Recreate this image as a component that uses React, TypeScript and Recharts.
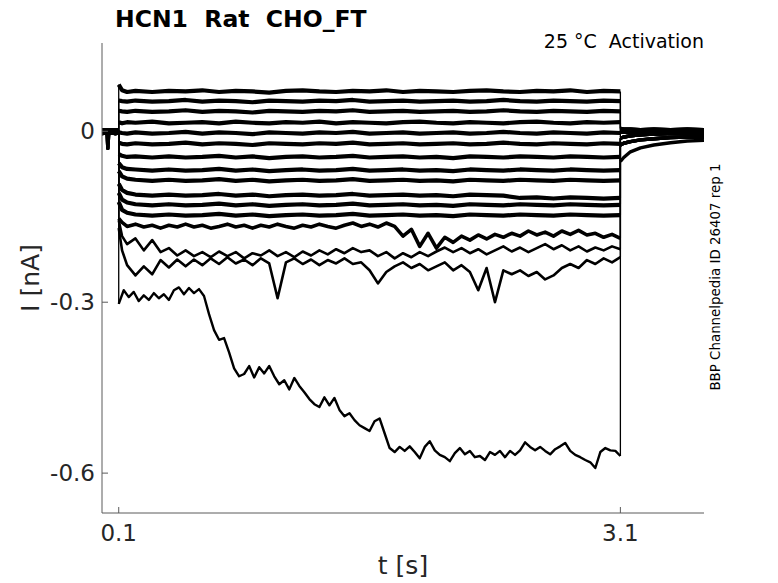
import React from 'react';
import { LineChart, Line, XAxis, YAxis } from 'recharts';

// sample times [s]
const preT = [0, 0.02, 0.03, 0.035, 0.04, 0.06, 0.08, 0.1];
const flatT = [0.1, 0.12, 0.15, 0.2, 0.3, 0.4, 0.5, 0.6, 0.7, 0.8, 0.9, 1.0, 1.1, 1.2, 1.3, 1.4, 1.5, 1.6, 1.7, 1.8, 1.9, 2.0, 2.1, 2.2, 2.3, 2.4, 2.5, 2.6, 2.7, 2.8, 2.9, 3.0, 3.1];
const noisyT = [0.1, 0.12, 0.15, 0.2, 0.25, 0.3, 0.35, 0.4, 0.45, 0.5, 0.55, 0.6, 0.65, 0.7, 0.75, 0.8, 0.85, 0.9, 0.95, 1.0, 1.05, 1.1, 1.15, 1.2, 1.25, 1.3, 1.35, 1.4, 1.45, 1.5, 1.55, 1.6, 1.65, 1.7, 1.75, 1.8, 1.85, 1.9, 1.95, 2.0, 2.05, 2.1, 2.15, 2.2, 2.25, 2.3, 2.35, 2.4, 2.45, 2.5, 2.55, 2.6, 2.65, 2.7, 2.75, 2.8, 2.85, 2.9, 2.95, 3.0, 3.05, 3.1];
const bigT = [0.1, 0.13, 0.16, 0.19, 0.22, 0.25, 0.28, 0.31, 0.34, 0.37, 0.4, 0.43, 0.46, 0.49, 0.52, 0.55, 0.58, 0.61, 0.64, 0.67, 0.7, 0.73, 0.76, 0.79, 0.82, 0.85, 0.88, 0.91, 0.94, 0.97, 1.0, 1.03, 1.06, 1.09, 1.12, 1.15, 1.18, 1.21, 1.24, 1.27, 1.3, 1.33, 1.36, 1.39, 1.42, 1.45, 1.48, 1.51, 1.54, 1.57, 1.6, 1.63, 1.66, 1.69, 1.72, 1.75, 1.78, 1.81, 1.84, 1.87, 1.9, 1.93, 1.96, 1.99, 2.02, 2.05, 2.08, 2.11, 2.14, 2.17, 2.2, 2.23, 2.26, 2.29, 2.32, 2.35, 2.38, 2.41, 2.44, 2.47, 2.5, 2.53, 2.56, 2.59, 2.62, 2.65, 2.68, 2.71, 2.74, 2.77, 2.8, 2.83, 2.86, 2.89, 2.92, 2.95, 2.98, 3.01, 3.04, 3.07, 3.1];
const tailT = [3.1, 3.12, 3.16, 3.22, 3.3, 3.4, 3.5, 3.6];

// holding current before the step [nA]
const preA = [0.003, 0.002, 0.003, 0.002, 0.003, 0.002, 0.003, 0.002];
const preB = [-0.004, -0.003, -0.004, -0.003, -0.004, -0.003, -0.004, -0.003];
const preSpike = [0, -0.001, -0.002, -0.03, -0.004, -0.001, 0, -0.001];

// steady traces during the step [nA]
const f1 = [0.082, 0.072, 0.069, 0.071, 0.069, 0.071, 0.07, 0.072, 0.069, 0.071, 0.07, 0.068, 0.071, 0.072, 0.07, 0.069, 0.071, 0.07, 0.072, 0.069, 0.071, 0.07, 0.069, 0.071, 0.072, 0.07, 0.069, 0.071, 0.07, 0.072, 0.069, 0.071, 0.07];
const f2 = [0.054, 0.053, 0.052, 0.054, 0.052, 0.053, 0.055, 0.052, 0.054, 0.053, 0.051, 0.054, 0.053, 0.052, 0.054, 0.053, 0.055, 0.052, 0.053, 0.054, 0.052, 0.053, 0.054, 0.052, 0.053, 0.055, 0.053, 0.052, 0.054, 0.053, 0.052, 0.054, 0.053];
const f3 = [0.036, 0.035, 0.034, 0.036, 0.034, 0.035, 0.037, 0.034, 0.036, 0.035, 0.033, 0.036, 0.035, 0.034, 0.036, 0.035, 0.037, 0.034, 0.035, 0.036, 0.034, 0.035, 0.036, 0.034, 0.035, 0.037, 0.035, 0.034, 0.036, 0.035, 0.034, 0.036, 0.035];
const f4 = [0.016, 0.014, 0.016, 0.015, 0.017, 0.014, 0.015, 0.016, 0.014, 0.017, 0.015, 0.014, 0.016, 0.015, 0.017, 0.014, 0.016, 0.015, 0.014, 0.016, 0.017, 0.015, 0.014, 0.016, 0.015, 0.014, 0.016, 0.017, 0.015, 0.014, 0.016, 0.015, 0.016];
const f5 = [-0.002, -0.003, -0.004, -0.002, -0.004, -0.003, -0.001, -0.004, -0.002, -0.003, -0.005, -0.002, -0.003, -0.004, -0.002, -0.003, -0.001, -0.004, -0.003, -0.002, -0.004, -0.003, -0.002, -0.004, -0.003, -0.001, -0.003, -0.004, -0.002, -0.003, -0.004, -0.002, -0.003];
const f6 = [-0.02, -0.022, -0.023, -0.021, -0.023, -0.022, -0.02, -0.023, -0.021, -0.022, -0.024, -0.021, -0.022, -0.023, -0.021, -0.022, -0.02, -0.023, -0.022, -0.021, -0.023, -0.022, -0.021, -0.023, -0.022, -0.02, -0.022, -0.023, -0.021, -0.022, -0.023, -0.021, -0.022];
const f7 = [-0.04, -0.043, -0.045, -0.044, -0.046, -0.044, -0.046, -0.045, -0.043, -0.046, -0.044, -0.047, -0.045, -0.044, -0.046, -0.045, -0.043, -0.046, -0.045, -0.044, -0.046, -0.045, -0.047, -0.044, -0.045, -0.046, -0.044, -0.045, -0.046, -0.044, -0.045, -0.046, -0.045];
const f8 = [-0.056, -0.063, -0.066, -0.067, -0.069, -0.067, -0.069, -0.068, -0.066, -0.069, -0.067, -0.07, -0.068, -0.067, -0.069, -0.068, -0.066, -0.069, -0.068, -0.067, -0.069, -0.068, -0.07, -0.067, -0.068, -0.069, -0.067, -0.068, -0.069, -0.067, -0.068, -0.069, -0.068];
const f9 = [-0.07, -0.079, -0.083, -0.085, -0.087, -0.085, -0.087, -0.086, -0.084, -0.087, -0.085, -0.088, -0.086, -0.085, -0.087, -0.086, -0.084, -0.087, -0.086, -0.085, -0.087, -0.086, -0.088, -0.085, -0.086, -0.087, -0.085, -0.086, -0.087, -0.085, -0.086, -0.087, -0.086];
const f10 = [-0.092, -0.103, -0.108, -0.111, -0.113, -0.111, -0.113, -0.112, -0.11, -0.113, -0.111, -0.114, -0.112, -0.111, -0.113, -0.112, -0.11, -0.113, -0.112, -0.111, -0.113, -0.112, -0.114, -0.111, -0.112, -0.113, -0.117, -0.116, -0.118, -0.116, -0.117, -0.118, -0.117];
const f11 = [-0.108, -0.12, -0.125, -0.128, -0.13, -0.128, -0.13, -0.129, -0.127, -0.13, -0.128, -0.131, -0.129, -0.128, -0.13, -0.129, -0.127, -0.13, -0.129, -0.128, -0.13, -0.129, -0.131, -0.128, -0.129, -0.13, -0.128, -0.129, -0.13, -0.128, -0.129, -0.13, -0.129];
const f12 = [-0.124, -0.138, -0.143, -0.146, -0.148, -0.146, -0.148, -0.147, -0.145, -0.148, -0.146, -0.149, -0.147, -0.146, -0.148, -0.147, -0.145, -0.148, -0.147, -0.146, -0.148, -0.147, -0.149, -0.146, -0.147, -0.148, -0.146, -0.147, -0.148, -0.146, -0.147, -0.148, -0.147];

// noisy traces near -0.2 nA
const n1 = [-0.153, -0.16, -0.167, -0.163, -0.168, -0.165, -0.17, -0.165, -0.168, -0.163, -0.168, -0.165, -0.17, -0.167, -0.163, -0.168, -0.165, -0.17, -0.165, -0.168, -0.163, -0.167, -0.17, -0.165, -0.168, -0.163, -0.167, -0.17, -0.165, -0.161, -0.167, -0.163, -0.168, -0.161, -0.167, -0.184, -0.172, -0.202, -0.179, -0.205, -0.186, -0.195, -0.184, -0.191, -0.182, -0.189, -0.181, -0.186, -0.179, -0.184, -0.175, -0.182, -0.177, -0.184, -0.175, -0.181, -0.174, -0.182, -0.179, -0.186, -0.181, -0.188];
const n2 = [-0.156, -0.184, -0.198, -0.188, -0.209, -0.191, -0.212, -0.205, -0.218, -0.209, -0.219, -0.212, -0.221, -0.211, -0.219, -0.212, -0.223, -0.214, -0.218, -0.209, -0.219, -0.212, -0.221, -0.211, -0.218, -0.209, -0.216, -0.207, -0.214, -0.205, -0.212, -0.209, -0.219, -0.212, -0.223, -0.214, -0.221, -0.212, -0.219, -0.211, -0.204, -0.212, -0.205, -0.214, -0.207, -0.216, -0.209, -0.202, -0.211, -0.204, -0.212, -0.205, -0.198, -0.207, -0.2, -0.209, -0.202, -0.211, -0.204, -0.209, -0.202, -0.207];
const n3 = [-0.17, -0.209, -0.235, -0.253, -0.237, -0.251, -0.226, -0.239, -0.225, -0.237, -0.225, -0.235, -0.223, -0.233, -0.221, -0.232, -0.225, -0.235, -0.223, -0.232, -0.293, -0.23, -0.223, -0.233, -0.225, -0.235, -0.226, -0.232, -0.223, -0.233, -0.23, -0.244, -0.267, -0.247, -0.237, -0.23, -0.24, -0.233, -0.244, -0.237, -0.23, -0.244, -0.235, -0.247, -0.279, -0.24, -0.3, -0.244, -0.251, -0.244, -0.254, -0.247, -0.26, -0.253, -0.24, -0.233, -0.24, -0.226, -0.233, -0.223, -0.23, -0.221];

// slowly activating large trace
const big = [-0.303, -0.279, -0.291, -0.282, -0.298, -0.288, -0.296, -0.284, -0.293, -0.286, -0.296, -0.279, -0.274, -0.286, -0.275, -0.284, -0.277, -0.289, -0.321, -0.349, -0.366, -0.363, -0.388, -0.416, -0.43, -0.426, -0.412, -0.432, -0.414, -0.425, -0.412, -0.43, -0.444, -0.437, -0.453, -0.433, -0.447, -0.458, -0.47, -0.479, -0.484, -0.467, -0.481, -0.468, -0.489, -0.5, -0.495, -0.507, -0.516, -0.521, -0.526, -0.509, -0.504, -0.53, -0.556, -0.563, -0.554, -0.561, -0.553, -0.563, -0.574, -0.554, -0.544, -0.56, -0.568, -0.572, -0.579, -0.565, -0.556, -0.567, -0.561, -0.572, -0.57, -0.577, -0.563, -0.568, -0.561, -0.572, -0.561, -0.568, -0.56, -0.546, -0.554, -0.56, -0.554, -0.561, -0.567, -0.558, -0.553, -0.547, -0.561, -0.568, -0.572, -0.577, -0.581, -0.591, -0.563, -0.556, -0.56, -0.561, -0.57];

// tail currents after the step
const tailUp = [0.005, 0.004, 0.004, 0.003, 0.004, 0.003, 0.004, 0.003];
const tailMid = [-0.002, -0.001, -0.002, -0.001, 0, -0.001, 0, -0.001];
const tailLow = [-0.012, -0.01, -0.008, -0.006, -0.005, -0.004, -0.004, -0.003];
const tailN = [-0.024, -0.021, -0.018, -0.015, -0.013, -0.011, -0.01, -0.01];
const tailBig = [-0.053, -0.046, -0.036, -0.029, -0.024, -0.02, -0.017, -0.016];

const xTicks = [0.1, 3.1];
const yTicks = [-0.6, -0.3, 0];

const traces = [
  { id: 'f1', pre: preA, t: flatT, v: f1, tail: tailUp, w: 4.2 },
  { id: 'f2', pre: preB, t: flatT, v: f2, tail: tailUp, w: 4.2 },
  { id: 'f3', pre: preA, t: flatT, v: f3, tail: tailMid, w: 4.2 },
  { id: 'f4', pre: preSpike, t: flatT, v: f4, tail: tailMid, w: 4.2 },
  { id: 'f5', pre: preB, t: flatT, v: f5, tail: tailMid, w: 4.2 },
  { id: 'f6', pre: preA, t: flatT, v: f6, tail: tailMid, w: 4.2 },
  { id: 'f7', pre: preSpike, t: flatT, v: f7, tail: tailLow, w: 4.2 },
  { id: 'f8', pre: preB, t: flatT, v: f8, tail: tailLow, w: 4.2 },
  { id: 'f9', pre: preA, t: flatT, v: f9, tail: tailLow, w: 4.2 },
  { id: 'f10', pre: preB, t: flatT, v: f10, tail: tailLow, w: 4.2 },
  { id: 'f11', pre: preSpike, t: flatT, v: f11, tail: tailLow, w: 4.2 },
  { id: 'f12', pre: preA, t: flatT, v: f12, tail: tailN, w: 4.2 },
  { id: 'n1', pre: preB, t: noisyT, v: n1, tail: tailN, w: 3.6 },
  { id: 'n2', pre: preA, t: noisyT, v: n2, tail: tailN, w: 2.6 },
  { id: 'n3', pre: preB, t: noisyT, v: n3, tail: tailN, w: 2.6 },
  { id: 'big', pre: preA, t: bigT, v: big, tail: tailBig, w: 2.4 },
];

type Pt = { t: number; i: number | null };
const pts = (ts: number[], vs: number[]): Pt[] => ts.map((t, k) => ({ t, i: vs[k] }));

// thin vertical jumps at step on and step off
const steps = (tr: (typeof traces)[number]): Pt[] => [
  { t: preT[preT.length - 1], i: tr.pre[tr.pre.length - 1] },
  { t: tr.t[0], i: tr.v[0] },
  { t: 1.6, i: null },
  { t: tr.t[tr.t.length - 1], i: tr.v[tr.v.length - 1] },
  { t: tailT[0], i: tr.tail[0] },
];

const font = 'DejaVu Sans, sans-serif';
const axisGrey = '#5a5a5a';

const seg = (key: string, data: Pt[], w: number) => (
  <Line
    key={key}
    name={key}
    data={data}
    dataKey="i"
    type="linear"
    stroke="#000"
    strokeWidth={w}
    strokeLinejoin="round"
    dot={false}
    activeDot={false}
    connectNulls={false}
    isAnimationActive={false}
  />
);

export default function App() {
  return (
    <div style={{ position: 'absolute', left: 0, top: 0, width: 778, height: 583, background: '#fff' }}>
      <LineChart width={778} height={583} margin={{ top: 43, right: 74, bottom: 0, left: 0 }}>
        <XAxis
          type="number"
          dataKey="t"
          domain={[0, 3.6]}
          allowDataOverflow
          ticks={xTicks}
          interval={0}
          height={70}
          tickSize={-6}
          tickMargin={18}
          axisLine={{ stroke: axisGrey }}
          tickLine={{ stroke: axisGrey }}
          tick={{ fill: '#262626', fontSize: 23, fontFamily: font }}
        />
        <YAxis
          type="number"
          domain={[-0.67, 0.155]}
          allowDataOverflow
          ticks={yTicks}
          interval={0}
          width={102}
          tickSize={-6}
          tickMargin={13}
          axisLine={{ stroke: axisGrey }}
          tickLine={{ stroke: axisGrey }}
          tick={{ fill: '#262626', fontSize: 23, fontFamily: font }}
        />
        {traces.flatMap((tr) => [
          seg(tr.id + '-pre', pts(preT, tr.pre), 3.4),
          seg(tr.id + '-on', pts(tr.t, tr.v), tr.w),
          seg(tr.id + '-tail', pts(tailT, tr.tail), 3.4),
          seg(tr.id + '-step', steps(tr), 1.3),
        ])}
      </LineChart>
      <svg width={778} height={583} style={{ position: 'absolute', left: 0, top: 0, pointerEvents: 'none' }}>
        <text x={115} y={27} fontFamily={font} fontWeight="bold" fontSize={23.5} fill="#000" style={{ whiteSpace: 'pre' }}>
          HCN1  Rat  CHO_FT
        </text>
        <text x={704} y={48} textAnchor="end" fontFamily={font} fontSize={19} fill="#000" style={{ whiteSpace: 'pre' }}>
          25 °C  Activation
        </text>
        <text x={403} y={574} textAnchor="middle" fontFamily={font} fontSize={25} fill="#262626">
          t [s]
        </text>
        <text x={39} y={278} textAnchor="middle" fontFamily={font} fontSize={25} fill="#262626" transform="rotate(-90 39 278)">
          I [nA]
        </text>
        <text x={720} y={277} textAnchor="middle" fontFamily={font} fontSize={13.4} fill="#000" transform="rotate(-90 720 277)">
          BBP Channelpedia ID 26407 rep 1
        </text>
      </svg>
    </div>
  );
}
